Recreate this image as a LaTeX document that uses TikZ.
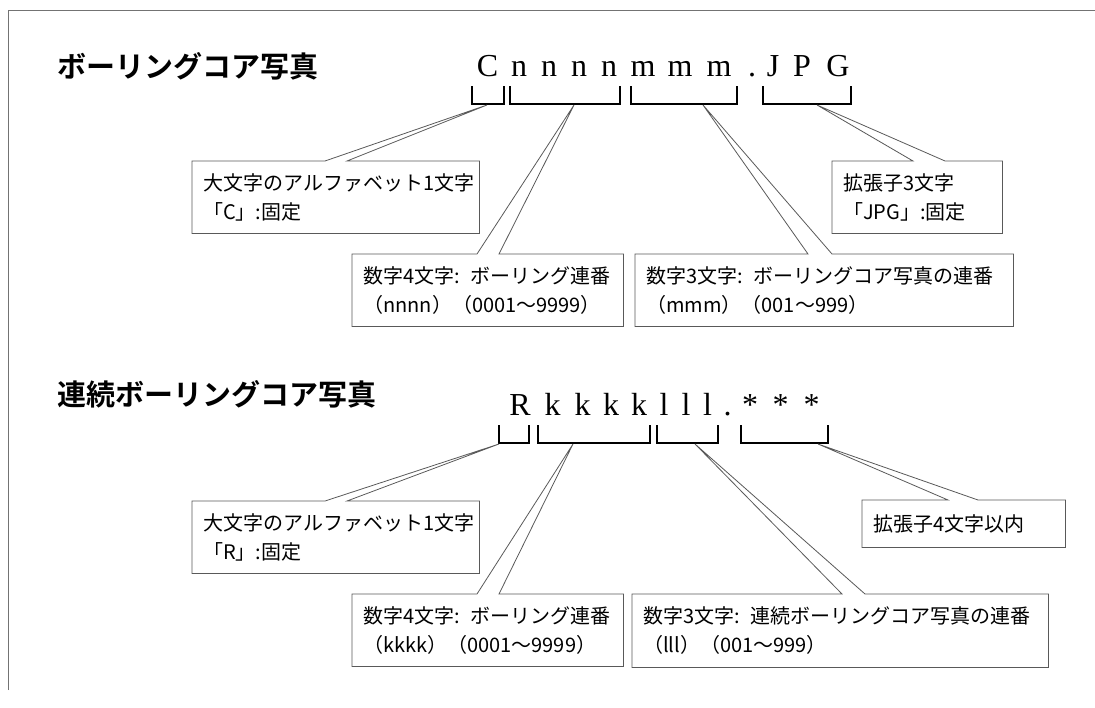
\documentclass[tikz,border=0pt]{standalone}
\usepackage{fontspec}
\setmainfont{Liberation Serif}
\newfontfamily\jp{Noto Sans CJK JP}
\newfontfamily\jpb{Noto Sans CJK JP Bold}
\newcommand{\colsp}{:\hspace{0.55em}}
\begin{document}
\begin{tikzpicture}[x=1pt,y=-1pt,
  title/.style={font=\jpb\fontsize{29}{35}\selectfont, anchor=west, inner sep=0pt},
  ch/.style={font=\fontsize{32}{38}\selectfont, anchor=base, inner sep=0pt},
  brk/.style={line width=1.6pt, draw=black},
  callbox/.style={font=\jp\fontsize{20}{29}\selectfont, align=left, inner xsep=11pt, inner ysep=0pt, anchor=north west},
  callline/.style={draw=black!65, line width=0.8pt},
  framel/.style={draw=black!55, line width=1pt}]
\useasboundingbox (0,0) rectangle (1095,707);
% frame
\draw[framel] (8,690) -- (8,10) -- (1095,10);

% ---------- row 1 ----------
\node[title] (t1) at (57,66) {ボーリングコア写真};
\node[ch] (c1) at (487.5,76) {C};
\node[ch] (c2) at (519,76) {n};
\node[ch] (c3) at (549,76) {n};
\node[ch] (c4) at (579,76) {n};
\node[ch] (c5) at (609,76) {n};
\node[ch] (c6) at (643,76) {m};
\node[ch] (c7) at (680,76) {m};
\node[ch] (c8) at (719,76) {m};
\node[ch] (c9) at (752,76) {.};
\node[ch] (c10) at (773,76) {J};
\node[ch] (c11) at (802,76) {P};
\node[ch] (c12) at (838,76) {G};

\draw[brk] (472,86) -- (472,104) -- (504,104) -- (504,86);
\draw[brk] (510,86) -- (510,104) -- (620,104) -- (620,86);
\draw[brk] (631,86) -- (631,104) -- (737,104) -- (737,86);
\draw[brk] (763,86) -- (763,104) -- (851,104) -- (851,86);
\coordinate (aC) at (487,105);
\coordinate (aN) at (574,105);
\coordinate (aM) at (703,105);
\coordinate (aJ) at (817,105);

\node[callbox, text width=265pt, minimum height=72pt] (bC) at (192,161)
  {大文字のアルファベット1文字\\「C」:固定};
\node[callbox, text width=249pt, minimum height=72pt] (bN) at (352,254)
  {数字4文字\colsp ボーリング連番\\（nnnn）（0001～9999）};
\node[callbox, text width=356pt, minimum height=72pt] (bM) at (635,254)
  {数字3文字\colsp ボーリングコア写真の連番\\（mmm）（001～999）};
\node[callbox, text width=148pt, minimum height=72pt] (bJ) at (832,161)
  {拡張子3文字\\「JPG」:固定};

\draw[callline] (bC.north west) -- (325,161) -- (aC) -- (347,161) -- (bC.north east) -- (bC.south east) -- (bC.south west) -- cycle;
\draw[callline] (bN.north west) -- (477,254) -- (aN) -- (499,254) -- (bN.north east) -- (bN.south east) -- (bN.south west) -- cycle;
\draw[callline] (bM.north west) -- (808,254) -- (aM) -- (832,254) -- (bM.north east) -- (bM.south east) -- (bM.south west) -- cycle;
\draw[callline] (bJ.north west) -- (913,161) -- (aJ) -- (945,161) -- (bJ.north east) -- (bJ.south east) -- (bJ.south west) -- cycle;

% ---------- row 2 ----------
\node[title] (t2) at (57,394) {連続ボーリングコア写真};
\node[ch] (d1) at (520,415) {R};
\node[ch] (d2) at (552.5,415) {k};
\node[ch] (d3) at (582.5,415) {k};
\node[ch] (d4) at (611,415) {k};
\node[ch] (d5) at (639,415) {k};
\node[ch] (d6) at (664,415) {l};
\node[ch] (d7) at (686,415) {l};
\node[ch] (d8) at (707.5,415) {l};
\node[ch] (d9) at (727.5,415) {.};
\node[ch] (d10) at (750,415) {*};
\node[ch] (d11) at (780.5,415) {*};
\node[ch] (d12) at (811.5,415) {*};

\draw[brk] (499,425) -- (499,443) -- (529,443) -- (529,425);
\draw[brk] (538,425) -- (538,443) -- (650,443) -- (650,425);
\draw[brk] (657,425) -- (657,443) -- (718,443) -- (718,425);
\draw[brk] (741,425) -- (741,443) -- (828,443) -- (828,425);
\coordinate (aR) at (499,444);
\coordinate (aK) at (573,444);
\coordinate (aL) at (695,444);
\coordinate (aX) at (818,444);

\node[callbox, text width=265pt, minimum height=72pt] (bR) at (192,501)
  {大文字のアルファベット1文字\\「R」:固定};
\node[callbox, text width=249pt, minimum height=72pt] (bK) at (352,594)
  {数字4文字\colsp ボーリング連番\\（kkkk）（0001～9999）};
\node[callbox, text width=394pt, minimum height=73pt] (bL) at (632,594)
  {数字3文字\colsp 連続ボーリングコア写真の連番\\（lll）（001～999）};
\node[callbox, text width=181pt, minimum height=47pt] (bX) at (862,500)
  {拡張子4文字以内};

\draw[callline] (bR.north west) -- (325,501) -- (aR) -- (347,501) -- (bR.north east) -- (bR.south east) -- (bR.south west) -- cycle;
\draw[callline] (bK.north west) -- (477,594) -- (aK) -- (499,594) -- (bK.north east) -- (bK.south east) -- (bK.south west) -- cycle;
\draw[callline] (bL.north west) -- (842,594) -- (aL) -- (865,594) -- (bL.north east) -- (bL.south east) -- (bL.south west) -- cycle;
\draw[callline] (bX.north west) -- (948,500) -- (aX) -- (978,500) -- (bX.north east) -- (bX.south east) -- (bX.south west) -- cycle;
\end{tikzpicture}
\end{document}
